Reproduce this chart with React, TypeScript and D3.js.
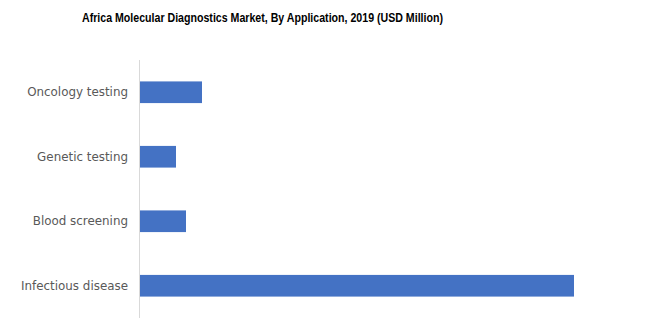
import React from "react";
import * as d3 from "d3";

const categories = ["Oncology testing", "Genetic testing", "Blood screening", "Infectious disease"];
const values = [62, 36, 46, 434];
const title = "Africa Molecular Diagnostics Market, By Application, 2019 (USD Million)";

const W = 650;
const H = 333;
const plotLeft = 140;
const plotTop = 60;
const plotBottom = 318;

export default function App() {
  const y = d3
    .scaleBand<string>()
    .domain(categories)
    .range([plotTop, plotBottom])
    .paddingInner(0.664)
    .paddingOuter(0.332);
  const x = d3.scaleLinear().domain([0, 500]).range([plotLeft, plotLeft + 500]);

  return (
    <svg
      width={W}
      height={H}
      style={{ position: "absolute", left: 0, top: 0, background: "#fff" }}
    >
      <text
        x={82}
        y={21.5}
        textLength={361}
        lengthAdjust="spacingAndGlyphs"
        fontFamily="'Liberation Sans', Arial, sans-serif"
        fontWeight="bold"
        fontSize={13}
        fill="#000"
      >
        {title}
      </text>
      {categories.map((c, i) => (
        <g key={c}>
          <rect
            x={x(0)}
            y={y(c)!}
            width={x(values[i]) - x(0)}
            height={y.bandwidth()}
            fill="#4472c4"
          />
          <text
            x={128}
            y={y(c)! + y.bandwidth() / 2}
            dy="0.35em"
            textAnchor="end"
            fontFamily="'DejaVu Sans', sans-serif"
            fontSize={11.9}
            fill="#595959"
          >
            {c}
          </text>
        </g>
      ))}
      <line
        x1={139.5}
        x2={139.5}
        y1={plotTop}
        y2={plotBottom}
        stroke="#d9d9d9"
        strokeWidth={1}
      />
    </svg>
  );
}
